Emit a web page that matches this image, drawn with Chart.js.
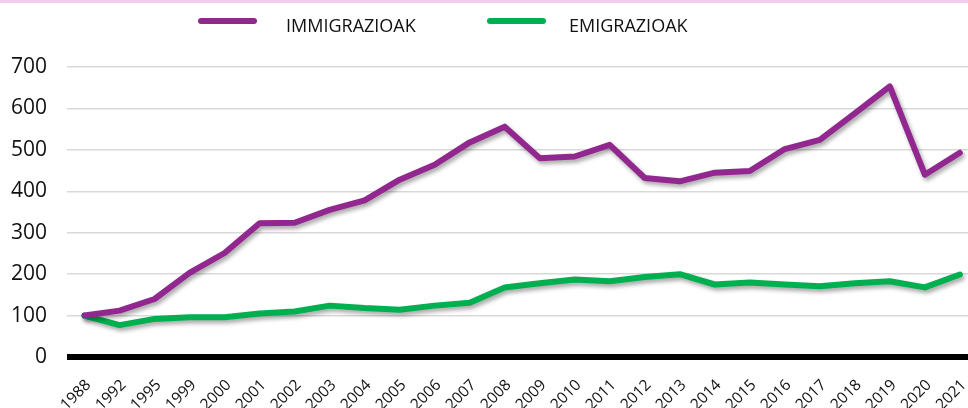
<!DOCTYPE html>
<html>
<head>
<meta charset="utf-8">
<script src="https://cdn.jsdelivr.net/npm/chart.js@4.4.0/dist/chart.umd.min.js"></script>
<style>
  html, body { margin: 0; padding: 0; background: #fff; overflow: hidden; }
  #franja { position: absolute; top: 0; left: 0; width: 968px; height: 3px; background: #f2cdf0; z-index: 2; }
  #caixa { position: absolute; top: 0; left: 0; width: 984px; height: 408px; }
</style>
</head>
<body>
<div id="franja"></div>
<div id="caixa"><canvas id="grafico" width="984" height="408"></canvas></div>
<script>
// anos do eixo x
const anos = ['1988', '1992', '1995', '1999', '2000', '2001', '2002', '2003', '2004', '2005', '2006',
  '2007', '2008', '2009', '2010', '2011', '2012', '2013', '2014', '2015', '2016', '2017', '2018',
  '2019', '2020', '2021'];

// séries
const immigrazioak = [100, 112, 140, 203, 251, 323, 324, 355, 378, 428, 464, 518, 556,
  480, 484, 512, 432, 424, 445, 449, 502, 524, 588, 653, 440, 493];
const emigrazioak = [100, 77, 92, 96, 96, 105, 110, 124, 118, 114, 124, 131, 168,
  178, 187, 183, 193, 200, 175, 180, 175, 171, 178, 183, 168, 199];

const nomesSeries = ['IMMIGRAZIOAK', 'EMIGRAZIOAK'];
const coresSeries = ['#92278f', '#00b050'];

// sombra suave debaixo das linhas
const sombra = {
  id: 'sombra',
  beforeDatasetsDraw(chart) {
    const c = chart.ctx;
    c.save();
    c.shadowColor = 'rgba(0,0,0,0.35)';
    c.shadowBlur = 4;
    c.shadowOffsetX = 2;
    c.shadowOffsetY = 3;
  },
  afterDatasetsDraw(chart) {
    chart.ctx.restore();
  }
};

// legenda desenhada à mão, posições como no original
const legenda = {
  id: 'legenda',
  afterDraw(chart) {
    const c = chart.ctx;
    const itens = [{ x: 198, xt: 286 }, { x: 487, xt: 569 }];
    chart.data.datasets.forEach((ds, i) => {
      const it = itens[i];
      c.save();
      c.strokeStyle = ds.borderColor;
      c.lineWidth = 6;
      c.lineCap = 'round';
      c.beginPath();
      c.moveTo(it.x + 3, 21);
      c.lineTo(it.x + 56, 21);
      c.stroke();
      c.fillStyle = '#111111';
      c.font = '18px "Open Sans"';
      c.textBaseline = 'alphabetic';
      c.fillText(ds.label, it.xt, 32);
      c.restore();
    });
  }
};

const ctx = document.getElementById('grafico').getContext('2d');

new Chart(ctx, {
  type: 'line',
  data: {
    labels: anos,
    datasets: [
      {
        label: nomesSeries[0],
        data: immigrazioak,
        borderColor: coresSeries[0],
        backgroundColor: coresSeries[0],
        borderWidth: 6,
        pointRadius: 0,
        tension: 0,
        borderCapStyle: 'round',
        borderJoinStyle: 'round'
      },
      {
        label: nomesSeries[1],
        data: emigrazioak,
        borderColor: coresSeries[1],
        backgroundColor: coresSeries[1],
        borderWidth: 6,
        pointRadius: 0,
        tension: 0,
        borderCapStyle: 'round',
        borderJoinStyle: 'round'
      }
    ]
  },
  options: {
    responsive: false,
    animation: false,
    layout: {
      padding: { top: 67, right: 1, bottom: 0, left: 0 }
    },
    plugins: {
      legend: { display: false },
      tooltip: { enabled: false }
    },
    scales: {
      x: {
        offset: true,
        grid: { display: false },
        border: { display: false },
        ticks: {
          color: '#111111',
          font: { family: 'Open Sans', size: 15.5 },
          maxRotation: 45,
          minRotation: 45,
          autoSkip: false,
          padding: 11,
          labelOffset: 4
        },
        afterFit(scale) { scale.height = 51; }
      },
      y: {
        min: 0,
        max: 700,
        border: { display: false },
        grid: {
          drawTicks: false,
          color: c => c.tick.value === 0 ? '#000000' : '#d9d9d9',
          lineWidth: c => c.tick.value === 0 ? 6 : 1.5
        },
        ticks: {
          stepSize: 100,
          color: '#111111',
          font: { family: 'Open Sans', size: 21 },
          padding: 20
        },
        afterFit(scale) { scale.width = 67; }
      }
    }
  },
  plugins: [sombra, legenda]
});
</script>
</body>
</html>
